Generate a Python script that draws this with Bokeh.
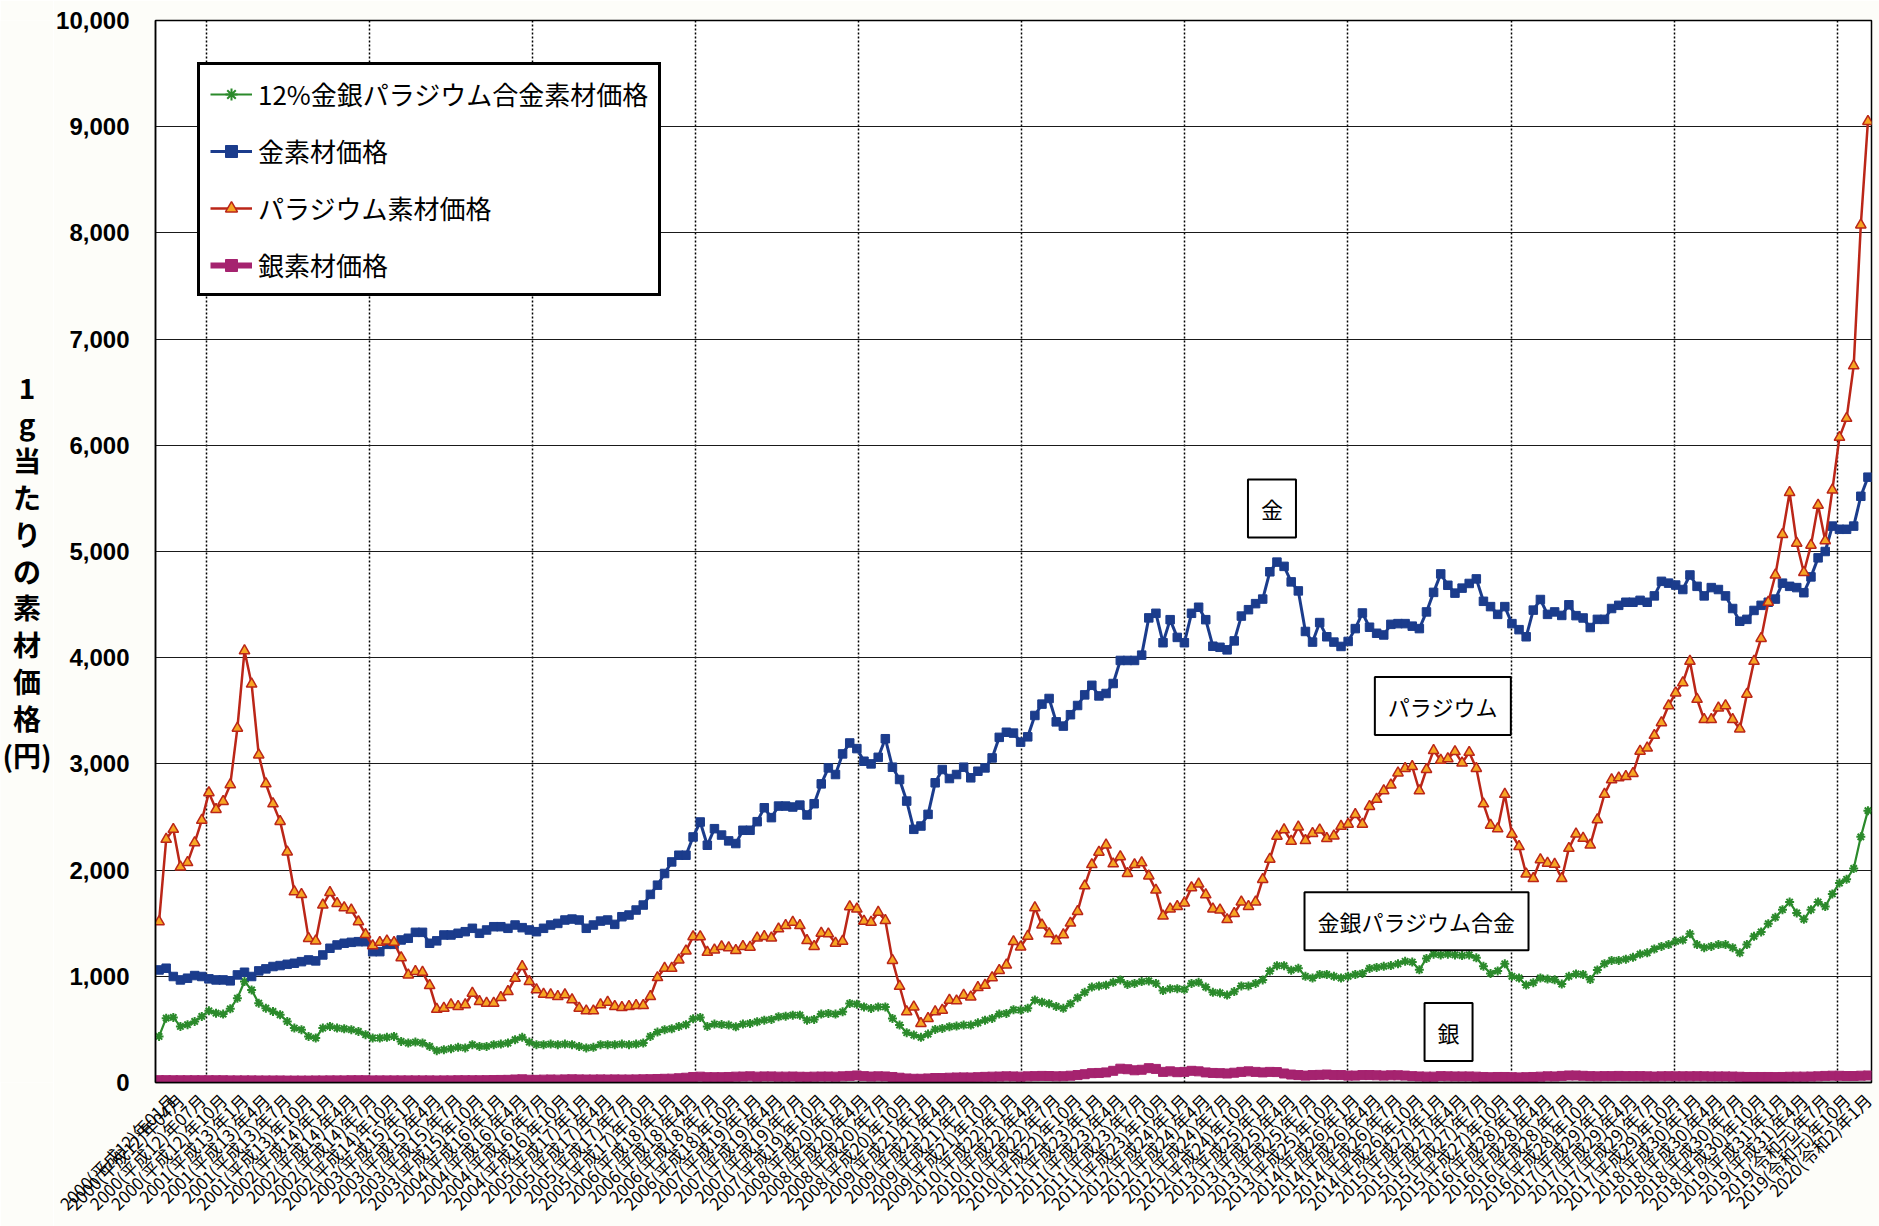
import math
from bokeh.plotting import figure
from bokeh.layouts import row
from bokeh.models import (Range1d, FixedTicker, NumeralTickFormatter, Legend,
                          LegendItem, Label)
from bokeh.core.properties import value
from bokeh.embed import file_html
from bokeh.resources import INLINE

# ---------------- data (monthly, 2000/01 .. 2020/01) ----------------
months = list(range(241))

gold = [
    1060, 1076, 998, 966, 982, 1007, 998, 976, 966, 966,
    957, 1013, 1038, 998, 1051, 1070, 1092, 1101, 1113, 1123,
    1138, 1154, 1145, 1201, 1264, 1295, 1311, 1320, 1326, 1326,
    1232, 1232, 1301, 1301, 1342, 1358, 1414, 1414, 1311, 1334,
    1389, 1389, 1405, 1420, 1452, 1405, 1436, 1467, 1467, 1452,
    1483, 1458, 1436, 1420, 1452, 1483, 1498, 1530, 1539, 1530,
    1452, 1483, 1520, 1530, 1489, 1561, 1577, 1624, 1671, 1771,
    1858, 1968, 2077, 2140, 2140, 2312, 2453, 2234, 2390, 2330,
    2275, 2250, 2375, 2375, 2456, 2587, 2494, 2603, 2603, 2594,
    2612, 2519, 2625, 2812, 2962, 2900, 3094, 3197, 3144, 3025,
    3000, 3062, 3237, 2969, 2853, 2650, 2384, 2415, 2525, 2822,
    2947, 2862, 2900, 2969, 2869, 2931, 2962, 3056, 3250,
    3298, 3290, 3205, 3255, 3456, 3563, 3616, 3396, 3356, 3463,
    3550, 3650, 3740, 3640, 3663, 3757, 3974, 3974, 3974, 4024,
    4375, 4418, 4141, 4358, 4191, 4141, 4418, 4475, 4358, 4108,
    4098, 4074, 4158, 4392, 4452, 4509, 4552, 4809, 4900, 4860,
    4714, 4629,
    4247, 4147, 4331, 4197, 4147, 4106, 4153, 4274, 4421, 4287,
    4230, 4214, 4314, 4321, 4321, 4297, 4274, 4431, 4615, 4789,
    4682, 4608, 4655, 4699, 4742, 4531, 4481, 4408, 4481, 4321,
    4264, 4197, 4448, 4548, 4408, 4431, 4398, 4498, 4396, 4374,
    4284, 4361, 4361, 4463, 4493, 4522, 4522, 4540, 4522, 4582,
    4719, 4702, 4684, 4642, 4779, 4672, 4582, 4660, 4642, 4582,
    4463, 4343, 4361, 4445, 4493, 4522, 4552, 4702, 4672, 4660,
    4612, 4761, 4940, 5000, 5239, 5209, 5209, 5239, 5520, 5700,
]

palladium = [
    1514, 2290, 2384, 2030, 2071, 2259, 2469, 2729, 2572, 2647,
    2804, 3336, 4065, 3752, 3085, 2813, 2625, 2459, 2171, 1796,
    1771, 1357, 1333, 1671, 1789, 1686, 1646, 1624, 1514, 1395,
    1289, 1320, 1333, 1320, 1176, 1013, 1045, 1038, 913, 690,
    700, 732, 716, 732, 841, 763, 747, 747, 800, 857,
    982, 1092, 951, 873, 832, 826, 810, 826, 779, 700,
    675, 675, 732, 757, 716, 707, 716, 725, 725, 810,
    988, 1076, 1076, 1154, 1239, 1373, 1373, 1226, 1248, 1280,
    1269, 1244, 1281, 1275, 1362, 1375, 1362, 1447, 1478, 1509,
    1478, 1337, 1281, 1406, 1400, 1312, 1331, 1656, 1634, 1519,
    1509, 1603, 1525, 1150, 906, 666, 712, 556, 603, 666,
    681, 775, 769, 822, 806, 894, 916, 987, 1056,
    1106, 1327, 1277, 1377, 1645, 1484, 1401, 1334, 1391, 1501,
    1611, 1852, 2052, 2169, 2236, 2059, 2126, 1969, 2052, 2069,
    1945, 1812, 1568, 1635, 1658, 1691, 1835, 1869, 1768, 1635,
    1625, 1534, 1591, 1701, 1658, 1701, 1912, 2103, 2320, 2380,
    2272, 2406,
    2279, 2346, 2379, 2299, 2322, 2413, 2433, 2523, 2433, 2600,
    2667, 2747, 2801, 2915, 2958, 2975, 2747, 2948, 3126, 3035,
    3049, 3116, 3009, 3109, 2958, 2624, 2423, 2389, 2714, 2339,
    2222, 1964, 1921, 2098, 2065, 2055, 1921, 2205, 2340, 2300,
    2236, 2475, 2714, 2851, 2869, 2881, 2911, 3120, 3150, 3269,
    3388, 3549, 3669, 3764, 3966, 3609, 3418, 3418, 3526, 3549,
    3418, 3329, 3657, 3966, 4182, 4522, 4779, 5161, 5555, 5078,
    4803, 5060, 5436, 5102, 5579, 6075, 6254, 6749, 8075, 9050,
]

alloy = [
    434, 606, 613, 528, 544, 575, 622, 675, 653, 644,
    694, 794, 951, 872, 747, 700, 669, 638, 575, 513,
    497, 434, 419, 513, 528, 513, 506, 497, 481, 450,
    419, 419, 425, 434, 387, 372, 381, 372, 340, 300,
    309, 318, 331, 325, 356, 340, 340, 356, 362, 372,
    403, 425, 381, 356, 356, 362, 356, 362, 356, 340,
    325, 331, 356, 356, 356, 362, 356, 362, 372, 434,
    475, 497, 506, 528, 544, 600, 613, 528, 550, 545,
    541, 525, 550, 556, 572, 587, 594, 619, 625, 634,
    634, 587, 594, 644, 650, 644, 666, 744, 737, 712,
    697, 712, 712, 603, 541, 469, 447, 425, 456, 500,
    509, 525, 531, 541, 541, 562, 587, 603, 644,
    650, 685, 682, 699, 776, 756, 742, 716, 699, 742,
    799, 849, 899, 909, 916, 943, 966, 923, 933, 950,
    956, 933, 866, 883, 883, 876, 933, 943, 899, 849,
    843, 823, 856, 909, 909, 933, 966, 1050, 1100, 1100,
    1058, 1075,
    1000, 984, 1017, 1017, 1000, 984, 1000, 1017, 1027, 1074,
    1084, 1094, 1101, 1118, 1141, 1134, 1061, 1168, 1208, 1201,
    1208, 1201, 1195, 1201, 1174, 1094, 1027, 1051, 1118, 1000,
    984, 917, 940, 984, 974, 967, 927, 1000, 1022, 1017,
    970, 1060, 1119, 1149, 1149, 1161, 1179, 1209, 1221, 1257,
    1281, 1299, 1329, 1341, 1400, 1299, 1269, 1281, 1299, 1299,
    1269, 1221, 1299, 1376, 1418, 1495, 1555, 1627, 1699, 1597,
    1537, 1627, 1699, 1657, 1776, 1878, 1913, 2015, 2313, 2560,
]

silver = [
    22, 22, 21, 21, 21, 21, 21, 21, 21, 21, 20, 20,
    20, 20, 19, 19, 19, 19, 18, 18, 18, 18, 19, 19,
    20, 20, 20, 21, 21, 21, 20, 20, 20, 20, 20, 20,
    20, 20, 20, 19, 20, 20, 21, 21, 21, 21, 22, 23,
    24, 25, 28, 30, 26, 25, 27, 28, 27, 29, 30, 29,
    28, 28, 29, 28, 29, 28, 28, 29, 30, 31, 33, 35,
    36, 40, 45, 52, 55, 50, 50, 50, 52, 55, 56, 58,
    55, 57, 57, 55, 55, 56, 54, 53, 55, 56, 56, 55,
    58, 62, 66, 60, 56, 58, 57, 52, 45, 38, 35, 35,
    38, 42, 42, 45, 47, 48, 47, 50, 53, 55, 56, 58,
    57, 55, 58, 60, 62, 61, 58, 59, 64, 70, 78, 88,
    90, 95, 110, 130, 125, 115, 120, 135, 128, 100, 105, 97,
    100, 110, 105, 95, 90, 88, 85, 92, 100, 105, 100, 95,
    100, 98, 85, 75, 70, 65, 70, 72, 75, 70, 70, 65,
    65, 70, 70, 68, 65, 68, 68, 65, 60, 57, 55, 55,
    60, 58, 57, 57, 57, 55, 52, 50, 52, 52, 50, 48,
    50, 52, 55, 58, 57, 62, 66, 66, 63, 60, 58, 60,
    60, 62, 60, 60, 60, 58, 56, 58, 59, 58, 58, 58,
    59, 58, 57, 57, 57, 56, 54, 52, 52, 52, 52, 51,
    52, 54, 55, 55, 56, 58, 62, 64, 63, 61, 61, 64,
    66,
]

tick_labels = [
    "2000(平成12)年01月", "2000(平成12)年04月", "2000(平成12)年07月", "2000(平成12)年10月",
    "2001(平成13)年1月", "2001(平成13)年4月", "2001(平成13)年7月", "2001(平成13)年10月",
    "2002(平成14)年1月", "2002(平成14)年4月", "2002(平成14)年7月", "2002(平成14)年10月",
    "2003(平成15)年1月", "2003(平成15)年4月", "2003(平成15)年7月", "2003(平成15)年10月",
    "2004(平成16)年1月", "2004(平成16)年4月", "2004(平成16)年7月", "2004(平成16)年10月",
    "2005(平成17)年1月", "2005(平成17)年4月", "2005(平成17)年7月", "2005(平成17)年10月",
    "2006(平成18)年1月", "2006(平成18)年4月", "2006(平成18)年7月", "2006(平成18)年10月",
    "2007(平成19)年1月", "2007(平成19)年4月", "2007(平成19)年7月", "2007(平成19)年10月",
    "2008(平成20)年1月", "2008(平成20)年4月", "2008(平成20)年7月", "2008(平成20)年10月",
    "2009(平成21)年1月", "2009(平成21)年4月", "2009(平成21)年7月", "2009(平成21)年10月",
    "2010(平成22)年1月", "2010(平成22)年4月", "2010(平成22)年7月", "2010(平成22)年10月",
    "2011(平成23)年1月", "2011(平成23)年4月", "2011(平成23)年7月", "2011(平成23)年10月",
    "2012(平成24)年1月", "2012(平成24)年4月", "2012(平成24)年7月", "2012(平成24)年10月",
    "2013(平成25)年1月", "2013(平成25)年4月", "2013(平成25)年7月", "2013(平成25)年10月",
    "2014(平成26)年1月", "2014(平成26)年4月", "2014(平成26)年7月", "2014(平成26)年10月",
    "2015(平成27)年1月", "2015(平成27)年4月", "2015(平成27)年7月", "2015(平成27)年10月",
    "2016(平成28)年1月", "2016(平成28)年4月", "2016(平成28)年7月", "2016(平成28)年10月",
    "2017(平成29)年1月", "2017(平成29)年4月", "2017(平成29)年7月", "2017(平成29)年10月",
    "2018(平成30)年1月", "2018(平成30)年4月", "2018(平成30)年7月", "2018(平成30)年10月",
    "2019(平成31)年1月", "2019(平成31)年4月", "2019(令和元)年7月", "2019(令和元)年10月",
    "2020(令和2)年1月",
]

y_ticks = [0, 1000, 2000, 3000, 4000, 5000, 6000, 7000, 8000, 9000, 10000]

series_names = ["12%金銀パラジウム合金素材価格", "金素材価格", "パラジウム素材価格", "銀素材価格"]
y_title = "1\ng\n当\nた\nり\nの\n素\n材\n価\n格\n(円)"
annotations = [("金", 156.3, 5405), ("パラジウム", 180.3, 3545),
               ("金銀パラジウム合金", 176.6, 1518), ("銀", 181.1, 475)]

# ---------------- layout constants ----------------
JP = "Noto Sans CJK JP"
BG = "#fdfdf9"
TOTAL_W, TOTAL_H = 1879, 1226
TITLE_W = 53

# narrow panel holding the vertically stacked axis title
t = figure(width=TITLE_W, height=TOTAL_H, output_backend="svg", toolbar_location=None,
           x_range=Range1d(0, 1), y_range=Range1d(0, TOTAL_H),
           x_axis_type=None, y_axis_type=None, min_border=0,
           outline_line_color=None, background_fill_color=BG, border_fill_color=BG)
t.grid.visible = False
t.text(x=[0.5], y=[TOTAL_H - 635], text=[y_title], text_align=value("center"),
       text_baseline=value("middle"), text_font=value(JP),
       text_font_style=value("bold"), text_font_size=value("28px"),
       text_line_height=0.92, text_color=value("black"))

# main chart
p = figure(width=TOTAL_W - TITLE_W, height=TOTAL_H, output_backend="svg",
           toolbar_location=None,
           x_range=Range1d(-0.5, 240.5), y_range=Range1d(0, 10000),
           min_border_left=153 - TITLE_W, min_border_right=8, min_border_top=20,
           min_border_bottom=141, background_fill_color="white",
           border_fill_color=BG)
p.outline_line_color = "black"
p.outline_line_width = 1.5

tick_pos = [3 * k for k in range(len(tick_labels))]
p.xaxis.ticker = FixedTicker(ticks=tick_pos)
p.xaxis.major_label_overrides = {t_: lab for t_, lab in zip(tick_pos, tick_labels)}
p.xaxis.major_label_orientation = math.pi / 4
p.xaxis.major_label_text_font = JP
p.xaxis.major_label_text_font_size = "17px"
p.xaxis.major_label_text_color = "black"
p.xaxis.major_label_standoff = 8
p.xaxis.major_tick_line_color = None
p.xaxis.minor_tick_line_color = None
p.xaxis.axis_line_color = "black"
p.xaxis.axis_line_width = 1.5

p.yaxis.ticker = FixedTicker(ticks=y_ticks)
p.yaxis.formatter = NumeralTickFormatter(format="0,0")
p.yaxis.major_label_text_font = "Liberation Sans"
p.yaxis.major_label_text_font_style = "bold"
p.yaxis.major_label_text_font_size = "24px"
p.yaxis.major_label_text_color = "black"
p.yaxis.major_label_standoff = 20
p.yaxis.major_tick_line_color = None
p.yaxis.minor_tick_line_color = None
p.yaxis.axis_line_color = "black"
p.yaxis.axis_line_width = 1.5

p.ygrid.grid_line_color = "#1a1a1a"
p.ygrid.grid_line_width = 1
p.xgrid.ticker = FixedTicker(ticks=[6.6 + 22.91 * k for k in range(11)])
p.xgrid.grid_line_color = "black"
p.xgrid.grid_line_width = 1.5
p.xgrid.grid_line_dash = "2 2"

GREEN = "#2b8a2b"
BLUE = "#1b3c8c"
RED = "#bb2618"
ORANGE = "#f6a623"
MAGENTA = "#a5236f"

s_line = p.line(months, silver, line_color=MAGENTA, line_width=6)
s_pts = p.scatter(months, silver, marker="square", size=9, fill_color=MAGENTA,
                  line_color=MAGENTA)
a_line = p.line(months, alloy, line_color=GREEN, line_width=2.2)
a_pts = p.scatter(months, alloy, marker="asterisk", size=9, line_color=GREEN,
                  line_width=2)
g_line = p.line(months, gold, line_color=BLUE, line_width=3)
g_pts = p.scatter(months, gold, marker="square", size=8.5, fill_color=BLUE,
                  line_color=BLUE)
pd_line = p.line(months, palladium, line_color=RED, line_width=2.5)
pd_pts = p.scatter(months, palladium, marker="triangle", size=10.5, fill_color=ORANGE,
                   line_color=RED, line_width=1.5)

legend = Legend(items=[
    LegendItem(label=series_names[0], renderers=[a_line, a_pts]),
    LegendItem(label=series_names[1], renderers=[g_line, g_pts]),
    LegendItem(label=series_names[2], renderers=[pd_line, pd_pts]),
    LegendItem(label=series_names[3], renderers=[s_line, s_pts]),
], location="top_left", margin=42, padding=10, spacing=20, label_height=30,
    glyph_height=30, glyph_width=42, label_standoff=6,
    label_text_font=JP, label_text_font_size="26px", label_text_color="black",
    border_line_color="black", border_line_width=3, border_line_alpha=1.0,
    background_fill_color="white", background_fill_alpha=1.0)
p.add_layout(legend)

for txt, xx, yy in annotations:
    p.add_layout(Label(x=xx, y=yy, text=txt, text_align="center",
                       text_baseline="middle", text_font=JP,
                       text_font_size="22px", text_color="black",
                       border_line_color="black", border_line_width=2,
                       background_fill_color="white", padding=13))

layout = row(t, p, spacing=0)
open("out.html", "w").write(file_html(layout, INLINE))
